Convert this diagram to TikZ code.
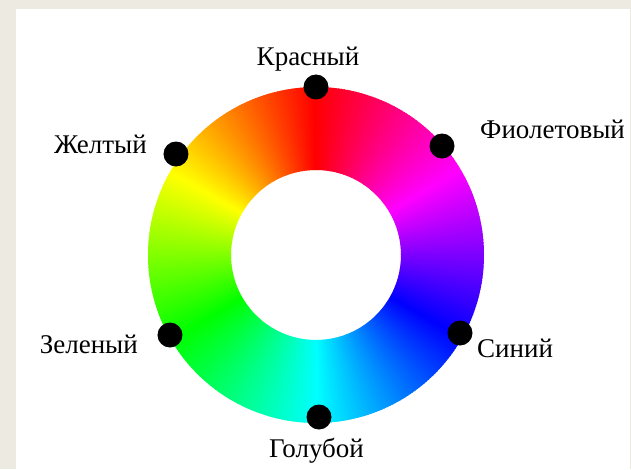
\documentclass[tikz,border=0pt]{standalone}
\usepackage{fontspec}
\setmainfont{Liberation Serif}
\usepackage{tikz}
\definecolor{pagebeige}{RGB}{237,234,226}
\tikzset{
	huedot/.style={circle, fill=black, inner sep=0pt, minimum size=25pt}
}
\tikzset{
	huename/.style={inner sep=0pt, font=\fontsize{27}{32}\selectfont}
}
\newcommand{\ringout}{168}
\newcommand{\ringin}{85}

\begin{document}
\begin{tikzpicture}[x=1pt, y=1pt]
      % page and white panel
      \fill[pagebeige] (-316,-214) rectangle (315,255);
      \fill[white] (-300,-214) rectangle (314,246);
      \useasboundingbox (-316,-214) rectangle (315,255);
      % hue ring, one wedge per degree
      \foreach \a in {0,...,359} {
        \pgfmathsetmacro{\h}{mod(\a+270,360)/360}
        \definecolor{wedge}{hsb}{\h,1,1}
        \fill[wedge] (\a:\ringout) arc[start angle=\a, end angle=\a+1.4, radius=\ringout]
          -- (\a+1.4:\ringin) arc[start angle=\a+1.4, end angle=\a, radius=\ringin] -- cycle;
      }
      % dots on the ring
      \node[huedot] (red) at (0,168) {};
      \node[huedot] (violet) at (126,109) {};
      \node[huedot] (yellow) at (-140,101) {};
      \node[huedot] (green) at (-146,-80) {};
      \node[huedot] (blue) at (144,-78) {};
      \node[huedot] (cyan) at (3,-162) {};
      % names
      \node[huename, anchor=base] (redname) at (-8,189) {Красный};
      \node[huename, anchor=base west] (violetname) at (164,117) {Фиолетовый};
      \node[huename, anchor=base east] (yellowname) at (-169,102) {Желтый};
      \node[huename, anchor=base east] (greenname) at (-178,-98) {Зеленый};
      \node[huename, anchor=base west] (bluename) at (161,-102) {Синий};
      \node[huename, anchor=base] (cyanname) at (0.5,-202) {Голубой};
    \end{tikzpicture}
\end{document}
